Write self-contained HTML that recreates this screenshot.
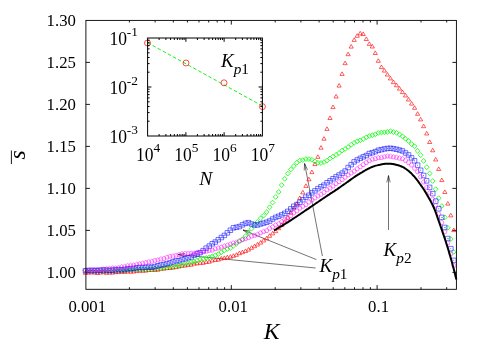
<!DOCTYPE html>
<html><head><meta charset="utf-8"><title>plot</title>
<style>html,body{margin:0;padding:0;background:#fff;overflow:hidden}svg{display:block;will-change:transform}text{font-family:"Liberation Serif",serif;fill:#000}.i{font-style:italic}</style></head><body>
<svg width="485" height="340" viewBox="0 0 485 340">
<rect width="485" height="340" fill="#fff"/>
<path d="M85.9 272.4h4M456.4 272.4h-4M85.9 230.4h4M456.4 230.4h-4M85.9 188.4h4M456.4 188.4h-4M85.9 146.4h4M456.4 146.4h-4M85.9 104.4h4M456.4 104.4h-4M85.9 62.4h4M456.4 62.4h-4M129.4 289.3v-2.1M129.4 20.4v2.1M155.1 289.3v-2.1M155.1 20.4v2.1M173.3 289.3v-2.1M173.3 20.4v2.1M187.4 289.3v-2.1M187.4 20.4v2.1M199 289.3v-2.1M199 20.4v2.1M208.7 289.3v-2.1M208.7 20.4v2.1M217.2 289.3v-2.1M217.2 20.4v2.1M224.6 289.3v-2.1M224.6 20.4v2.1M231.3 289.3v-4.2M231.3 20.4v4.2M275.2 289.3v-2.1M275.2 20.4v2.1M300.9 289.3v-2.1M300.9 20.4v2.1M319.1 289.3v-2.1M319.1 20.4v2.1M333.2 289.3v-2.1M333.2 20.4v2.1M344.8 289.3v-2.1M344.8 20.4v2.1M354.5 289.3v-2.1M354.5 20.4v2.1M363 289.3v-2.1M363 20.4v2.1M370.4 289.3v-2.1M370.4 20.4v2.1M377.1 289.3v-4.2M377.1 20.4v4.2M421 289.3v-2.1M421 20.4v2.1M446.7 289.3v-2.1M446.7 20.4v2.1" fill="none" stroke="#000" stroke-width="0.9"/>
<g fill="none" stroke="#000" stroke-width="0.55">
<path d="M316.4 259.6L243 230M243 230L249.9 231M243 230L248.7 234.1"/>
<path d="M315.6 268L178 254.5M178 254.5L184.9 253.5M178 254.5L184.6 256.8"/>
<path d="M322.4 256L304.6 163.5M304.6 163.5L307.5 169.8M304.6 163.5L304.2 170.5"/>
<path d="M388.5 230L388.5 175.6M388.5 175.6L390.2 182.4M388.5 175.6L386.8 182.4"/>
</g>
<g fill="none" class="m">
<path stroke="#ff0000" stroke-opacity="0.88" stroke-width="0.72" stroke-linejoin="round" d="M85.4 270.7L87.5 274.3L83.3 274.3ZM88.4 270.5L90.5 274.1L86.3 274.1ZM91.4 270.3L93.5 273.9L89.3 273.9ZM94.5 270.4L96.6 274L92.4 274ZM97.5 270.9L99.6 274.5L95.4 274.5ZM100.5 270.4L102.6 274L98.4 274ZM103.5 270.1L105.6 273.7L101.4 273.7ZM106.5 270.7L108.6 274.3L104.4 274.3ZM109.6 270.4L111.7 274L107.5 274ZM112.6 270.5L114.7 274.1L110.5 274.1ZM115.6 270L117.7 273.6L113.5 273.6ZM118.6 270L120.7 273.6L116.5 273.6ZM121.6 269.6L123.7 273.2L119.5 273.2ZM124.7 269.8L126.8 273.4L122.6 273.4ZM127.7 269.3L129.8 272.9L125.6 272.9ZM130.7 269.6L132.8 273.2L128.6 273.2ZM133.7 269.4L135.8 273L131.6 273ZM136.7 268.8L138.8 272.4L134.6 272.4ZM139.8 268.6L141.9 272.2L137.7 272.2ZM142.8 268.6L144.9 272.2L140.7 272.2ZM145.8 268.5L147.9 272.1L143.7 272.1ZM148.8 267.9L150.9 271.5L146.7 271.5ZM151.8 267.8L153.9 271.4L149.7 271.4ZM154.9 267.8L157 271.4L152.8 271.4ZM157.9 267.6L160 271.2L155.8 271.2ZM160.9 266.7L163 270.3L158.8 270.3ZM163.9 266.5L166 270.1L161.8 270.1ZM166.9 266L169 269.6L164.8 269.6ZM170 265.9L172.1 269.5L167.9 269.5ZM173 265.5L175.1 269.1L170.9 269.1ZM176 265L178.1 268.6L173.9 268.6ZM179 264.4L181.1 268L176.9 268ZM182 263.7L184.1 267.3L179.9 267.3ZM185.1 263.4L187.2 267L183 267ZM188.1 262.7L190.2 266.3L186 266.3ZM191.1 262.6L193.2 266.2L189 266.2ZM194.1 261.5L196.2 265.1L192 265.1ZM197.1 261.3L199.2 264.9L195 264.9ZM200.2 260.7L202.3 264.3L198.1 264.3ZM203.2 260.7L205.3 264.3L201.1 264.3ZM206.2 259.8L208.3 263.4L204.1 263.4ZM209.2 259.6L211.3 263.2L207.1 263.2ZM212.2 258.4L214.3 262L210.1 262ZM215.3 257.8L217.4 261.4L213.2 261.4ZM218.3 257.5L220.4 261.1L216.2 261.1ZM221.3 256.4L223.4 260L219.2 260ZM224.3 255.9L226.4 259.5L222.2 259.5ZM227.3 255.2L229.4 258.8L225.2 258.8ZM230.4 254.6L232.5 258.2L228.3 258.2ZM233.4 253.7L235.5 257.3L231.3 257.3ZM236.4 252.7L238.5 256.3L234.3 256.3ZM239.4 251.1L241.5 254.7L237.3 254.7ZM242.4 250.1L244.5 253.7L240.3 253.7ZM245.5 248.9L247.6 252.5L243.4 252.5ZM248.5 247.5L250.6 251.1L246.4 251.1ZM251.5 245.7L253.6 249.3L249.4 249.3ZM254.5 244.1L256.6 247.7L252.4 247.7ZM257.5 242.4L259.6 246L255.4 246ZM260.6 240.5L262.7 244.1L258.5 244.1ZM263.6 238.4L265.7 242L261.5 242ZM266.6 236.3L268.7 239.9L264.5 239.9ZM269.6 233.7L271.7 237.3L267.5 237.3ZM272.6 231.3L274.7 234.9L270.5 234.9ZM275.7 229.1L277.8 232.7L273.6 232.7ZM278.7 226.1L280.8 229.7L276.6 229.7ZM281.7 222.8L283.8 226.4L279.6 226.4ZM284.7 219.7L286.8 223.3L282.6 223.3ZM287.7 215.6L289.8 219.2L285.6 219.2ZM290.8 210.5L292.9 214.1L288.7 214.1ZM293.8 206.1L295.9 209.7L291.7 209.7ZM296.8 201.8L298.9 205.4L294.7 205.4ZM299.8 195.9L301.9 199.5L297.7 199.5ZM302.8 190.3L304.9 193.9L300.7 193.9ZM305.9 183.8L308 187.4L303.8 187.4ZM308.9 177.2L311 180.8L306.8 180.8ZM311.9 170L314 173.6L309.8 173.6ZM314.9 162L317 165.6L312.8 165.6ZM317.9 154.8L320 158.4L315.8 158.4ZM321 145.6L323.1 149.2L318.9 149.2ZM324 136.6L326.1 140.2L321.9 140.2ZM327 126.8L329.1 130.4L324.9 130.4ZM330 115.9L332.1 119.5L327.9 119.5ZM333 105L335.1 108.6L330.9 108.6ZM336.1 94.4L338.2 98L334 98ZM339.1 83.5L341.2 87.1L337 87.1ZM342.1 71.8L344.2 75.4L340 75.4ZM345.1 61.1L347.2 64.7L343 64.7ZM348.1 52.1L350.2 55.7L346 55.7ZM351.2 44.5L353.3 48.1L349.1 48.1ZM354.2 37.8L356.3 41.4L352.1 41.4ZM357.2 33.7L359.3 37.3L355.1 37.3ZM360.2 31.3L362.3 34.9L358.1 34.9ZM363.2 31.9L365.3 35.5L361.1 35.5ZM366.3 36.9L368.4 40.5L364.2 40.5ZM369.3 41.8L371.4 45.4L367.2 45.4ZM372.3 44.4L374.4 48L370.2 48ZM375.3 50.9L377.4 54.5L373.2 54.5ZM378.3 58.7L380.4 62.3L376.2 62.3ZM381.4 65L383.5 68.6L379.3 68.6ZM384.4 68.5L386.5 72.1L382.3 72.1ZM387.4 72.5L389.5 76.1L385.3 76.1ZM390.4 76.3L392.5 79.9L388.3 79.9ZM393.4 80L395.5 83.6L391.3 83.6ZM396.5 83.2L398.6 86.8L394.4 86.8ZM399.5 86.5L401.6 90.1L397.4 90.1ZM402.5 90L404.6 93.6L400.4 93.6ZM405.5 93.4L407.6 97L403.4 97ZM408.5 97.4L410.6 101L406.4 101ZM411.6 101.5L413.7 105.1L409.5 105.1ZM414.6 105.7L416.7 109.3L412.5 109.3ZM417.6 111.7L419.7 115.3L415.5 115.3ZM420.6 117.3L422.7 120.9L418.5 120.9ZM423.6 124.1L425.7 127.7L421.5 127.7ZM426.7 131.4L428.8 135L424.6 135ZM429.7 139.9L431.8 143.5L427.6 143.5ZM432.7 148.2L434.8 151.8L430.6 151.8ZM435.7 157.4L437.8 161L433.6 161ZM438.7 166.9L440.8 170.5L436.6 170.5ZM441.8 178L443.9 181.6L439.7 181.6ZM444.8 189.9L446.9 193.5L442.7 193.5ZM447.8 201.5L449.9 205.1L445.7 205.1ZM450.8 213.3L452.9 216.9L448.7 216.9ZM453.8 228L455.9 231.6L451.7 231.6Z"/>
<path stroke="#00ff00" stroke-width="0.78" d="M85.4 268.2L87.8 270.6L85.4 273L83 270.6ZM88.4 268.6L90.8 271L88.4 273.4L86 271ZM91.4 268.7L93.8 271.1L91.4 273.5L89 271.1ZM94.5 268.4L96.9 270.8L94.5 273.2L92.1 270.8ZM97.5 268.3L99.9 270.7L97.5 273.1L95.1 270.7ZM100.5 268L102.9 270.4L100.5 272.8L98.1 270.4ZM103.5 268.5L105.9 270.9L103.5 273.3L101.1 270.9ZM106.5 268.4L108.9 270.8L106.5 273.2L104.1 270.8ZM109.6 268.1L112 270.5L109.6 272.9L107.2 270.5ZM112.6 267.8L115 270.2L112.6 272.6L110.2 270.2ZM115.6 267.9L118 270.3L115.6 272.7L113.2 270.3ZM118.6 268.1L121 270.5L118.6 272.9L116.2 270.5ZM121.6 267.5L124 269.9L121.6 272.3L119.2 269.9ZM124.7 268L127.1 270.4L124.7 272.8L122.3 270.4ZM127.7 267.3L130.1 269.7L127.7 272.1L125.3 269.7ZM130.7 267.3L133.1 269.7L130.7 272.1L128.3 269.7ZM133.7 267L136.1 269.4L133.7 271.8L131.3 269.4ZM136.7 267L139.1 269.4L136.7 271.8L134.3 269.4ZM139.8 267.1L142.2 269.5L139.8 271.9L137.4 269.5ZM142.8 266.6L145.2 269L142.8 271.4L140.4 269ZM145.8 267.1L148.2 269.5L145.8 271.9L143.4 269.5ZM148.8 266.8L151.2 269.2L148.8 271.6L146.4 269.2ZM151.8 266.7L154.2 269.1L151.8 271.5L149.4 269.1ZM154.9 266.1L157.3 268.5L154.9 270.9L152.5 268.5ZM157.9 266.2L160.3 268.6L157.9 271L155.5 268.6ZM160.9 265.8L163.3 268.2L160.9 270.6L158.5 268.2ZM163.9 265.3L166.3 267.7L163.9 270.1L161.5 267.7ZM166.9 264.9L169.3 267.3L166.9 269.7L164.5 267.3ZM170 264.5L172.4 266.9L170 269.3L167.6 266.9ZM173 264.1L175.4 266.5L173 268.9L170.6 266.5ZM176 263.9L178.4 266.3L176 268.7L173.6 266.3ZM179 263L181.4 265.4L179 267.8L176.6 265.4ZM182 262.7L184.4 265.1L182 267.5L179.6 265.1ZM185.1 261.5L187.5 263.9L185.1 266.3L182.7 263.9ZM188.1 260.7L190.5 263.1L188.1 265.5L185.7 263.1ZM191.1 259.8L193.5 262.2L191.1 264.6L188.7 262.2ZM194.1 259.1L196.5 261.5L194.1 263.9L191.7 261.5ZM197.1 258.2L199.5 260.6L197.1 263L194.7 260.6ZM200.2 257L202.6 259.4L200.2 261.8L197.8 259.4ZM203.2 256.5L205.6 258.9L203.2 261.3L200.8 258.9ZM206.2 255.5L208.6 257.9L206.2 260.3L203.8 257.9ZM209.2 255L211.6 257.4L209.2 259.8L206.8 257.4ZM212.2 254L214.6 256.4L212.2 258.8L209.8 256.4ZM215.3 253L217.7 255.4L215.3 257.8L212.9 255.4ZM218.3 251.7L220.7 254.1L218.3 256.5L215.9 254.1ZM221.3 249.8L223.7 252.2L221.3 254.6L218.9 252.2ZM224.3 248.1L226.7 250.5L224.3 252.9L221.9 250.5ZM227.3 246.6L229.7 249L227.3 251.4L224.9 249ZM230.4 245.6L232.8 248L230.4 250.4L228 248ZM233.4 243.4L235.8 245.8L233.4 248.2L231 245.8ZM236.4 241.4L238.8 243.8L236.4 246.2L234 243.8ZM239.4 239.2L241.8 241.6L239.4 244L237 241.6ZM242.4 236.9L244.8 239.3L242.4 241.7L240 239.3ZM245.5 233.7L247.9 236.1L245.5 238.5L243.1 236.1ZM248.5 230.4L250.9 232.8L248.5 235.2L246.1 232.8ZM251.5 226.3L253.9 228.7L251.5 231.1L249.1 228.7ZM254.5 222.3L256.9 224.7L254.5 227.1L252.1 224.7ZM257.5 219.6L259.9 222L257.5 224.4L255.1 222ZM260.6 215.9L263 218.3L260.6 220.7L258.2 218.3ZM263.6 213.2L266 215.6L263.6 218L261.2 215.6ZM266.6 209.8L269 212.2L266.6 214.6L264.2 212.2ZM269.6 204.9L272 207.3L269.6 209.7L267.2 207.3ZM272.6 200.2L275 202.6L272.6 205L270.2 202.6ZM275.7 194.5L278.1 196.9L275.7 199.3L273.3 196.9ZM278.7 189.5L281.1 191.9L278.7 194.3L276.3 191.9ZM281.7 182.7L284.1 185.1L281.7 187.5L279.3 185.1ZM284.7 176.4L287.1 178.8L284.7 181.2L282.3 178.8ZM287.7 171.2L290.1 173.6L287.7 176L285.3 173.6ZM290.8 167.1L293.2 169.5L290.8 171.9L288.4 169.5ZM293.8 163.7L296.2 166.1L293.8 168.5L291.4 166.1ZM296.8 160.3L299.2 162.7L296.8 165.1L294.4 162.7ZM299.8 158.1L302.2 160.5L299.8 162.9L297.4 160.5ZM302.8 157.7L305.2 160.1L302.8 162.5L300.4 160.1ZM305.9 156.7L308.3 159.1L305.9 161.5L303.5 159.1ZM308.9 156.7L311.3 159.1L308.9 161.5L306.5 159.1ZM311.9 157.4L314.3 159.8L311.9 162.2L309.5 159.8ZM314.9 159L317.3 161.4L314.9 163.8L312.5 161.4ZM317.9 160.4L320.3 162.8L317.9 165.2L315.5 162.8ZM321 160.6L323.4 163L321 165.4L318.6 163ZM324 159.7L326.4 162.1L324 164.5L321.6 162.1ZM327 158.2L329.4 160.6L327 163L324.6 160.6ZM330 156L332.4 158.4L330 160.8L327.6 158.4ZM333 154.2L335.4 156.6L333 159L330.6 156.6ZM336.1 152.5L338.5 154.9L336.1 157.3L333.7 154.9ZM339.1 150.6L341.5 153L339.1 155.4L336.7 153ZM342.1 148.1L344.5 150.5L342.1 152.9L339.7 150.5ZM345.1 146.6L347.5 149L345.1 151.4L342.7 149ZM348.1 144.7L350.5 147.1L348.1 149.5L345.7 147.1ZM351.2 142.3L353.6 144.7L351.2 147.1L348.8 144.7ZM354.2 140.4L356.6 142.8L354.2 145.2L351.8 142.8ZM357.2 139L359.6 141.4L357.2 143.8L354.8 141.4ZM360.2 137.9L362.6 140.3L360.2 142.7L357.8 140.3ZM363.2 136.6L365.6 139L363.2 141.4L360.8 139ZM366.3 134.9L368.7 137.3L366.3 139.7L363.9 137.3ZM369.3 133.6L371.7 136L369.3 138.4L366.9 136ZM372.3 132.8L374.7 135.2L372.3 137.6L369.9 135.2ZM375.3 131.9L377.7 134.3L375.3 136.7L372.9 134.3ZM378.3 130.5L380.7 132.9L378.3 135.3L375.9 132.9ZM381.4 130.1L383.8 132.5L381.4 134.9L379 132.5ZM384.4 129.9L386.8 132.3L384.4 134.7L382 132.3ZM387.4 129.6L389.8 132L387.4 134.4L385 132ZM390.4 128.8L392.8 131.2L390.4 133.6L388 131.2ZM393.4 129.6L395.8 132L393.4 134.4L391 132ZM396.5 130.5L398.9 132.9L396.5 135.3L394.1 132.9ZM399.5 132L401.9 134.4L399.5 136.8L397.1 134.4ZM402.5 133.9L404.9 136.3L402.5 138.7L400.1 136.3ZM405.5 136.3L407.9 138.7L405.5 141.1L403.1 138.7ZM408.5 138.6L410.9 141L408.5 143.4L406.1 141ZM411.6 141.7L414 144.1L411.6 146.5L409.2 144.1ZM414.6 143.9L417 146.3L414.6 148.7L412.2 146.3ZM417.6 148.4L420 150.8L417.6 153.2L415.2 150.8ZM420.6 152.8L423 155.2L420.6 157.6L418.2 155.2ZM423.6 158.5L426 160.9L423.6 163.3L421.2 160.9ZM426.7 164.8L429.1 167.2L426.7 169.6L424.3 167.2ZM429.7 171.1L432.1 173.5L429.7 175.9L427.3 173.5ZM432.7 178.6L435.1 181L432.7 183.4L430.3 181ZM435.7 186.8L438.1 189.2L435.7 191.6L433.3 189.2ZM438.7 195.8L441.1 198.2L438.7 200.6L436.3 198.2ZM441.8 203.6L444.2 206L441.8 208.4L439.4 206ZM444.8 215L447.2 217.4L444.8 219.8L442.4 217.4ZM447.8 225.4L450.2 227.8L447.8 230.2L445.4 227.8ZM450.8 236.6L453.2 239L450.8 241.4L448.4 239ZM453.8 249.5L456.2 251.9L453.8 254.3L451.4 251.9Z"/>
<path stroke="#0000ff" stroke-width="0.55" d="M83.2 268.5h4.5v4.5h-4.5ZM86.2 268.2h4.5v4.5h-4.5ZM89.2 268.1h4.5v4.5h-4.5ZM92.2 268.2h4.5v4.5h-4.5ZM95.2 268.3h4.5v4.5h-4.5ZM98.2 268h4.5v4.5h-4.5ZM101.3 267.7h4.5v4.5h-4.5ZM104.3 267.9h4.5v4.5h-4.5ZM107.3 268h4.5v4.5h-4.5ZM110.3 268h4.5v4.5h-4.5ZM113.4 267.5h4.5v4.5h-4.5ZM116.4 267.4h4.5v4.5h-4.5ZM119.4 267.6h4.5v4.5h-4.5ZM122.4 267.2h4.5v4.5h-4.5ZM125.4 266.5h4.5v4.5h-4.5ZM128.4 266.4h4.5v4.5h-4.5ZM131.5 266.1h4.5v4.5h-4.5ZM134.5 265.5h4.5v4.5h-4.5ZM137.5 265.2h4.5v4.5h-4.5ZM140.5 265.3h4.5v4.5h-4.5ZM143.6 265.1h4.5v4.5h-4.5ZM146.6 264.8h4.5v4.5h-4.5ZM149.6 265h4.5v4.5h-4.5ZM152.6 264.3h4.5v4.5h-4.5ZM155.6 263.5h4.5v4.5h-4.5ZM158.7 262.7h4.5v4.5h-4.5ZM161.7 262.2h4.5v4.5h-4.5ZM164.7 261.4h4.5v4.5h-4.5ZM167.7 260.6h4.5v4.5h-4.5ZM170.7 259.6h4.5v4.5h-4.5ZM173.8 258.6h4.5v4.5h-4.5ZM176.8 258.4h4.5v4.5h-4.5ZM179.8 257.3h4.5v4.5h-4.5ZM182.8 256.5h4.5v4.5h-4.5ZM185.8 255.5h4.5v4.5h-4.5ZM188.9 254.7h4.5v4.5h-4.5ZM191.9 253.1h4.5v4.5h-4.5ZM194.9 251.5h4.5v4.5h-4.5ZM197.9 250.4h4.5v4.5h-4.5ZM200.9 248.4h4.5v4.5h-4.5ZM203.9 245.9h4.5v4.5h-4.5ZM207 243.8h4.5v4.5h-4.5ZM210 241.5h4.5v4.5h-4.5ZM213 239.8h4.5v4.5h-4.5ZM216 237.5h4.5v4.5h-4.5ZM219.1 235.3h4.5v4.5h-4.5ZM222.1 233.2h4.5v4.5h-4.5ZM225.1 230.6h4.5v4.5h-4.5ZM228.1 228h4.5v4.5h-4.5ZM231.1 225.6h4.5v4.5h-4.5ZM234.2 225h4.5v4.5h-4.5ZM237.2 224.3h4.5v4.5h-4.5ZM240.2 222.6h4.5v4.5h-4.5ZM243.2 221.1h4.5v4.5h-4.5ZM246.2 220.4h4.5v4.5h-4.5ZM249.2 221.7h4.5v4.5h-4.5ZM252.3 222.8h4.5v4.5h-4.5ZM255.3 222.7h4.5v4.5h-4.5ZM258.3 221.7h4.5v4.5h-4.5ZM261.3 220.9h4.5v4.5h-4.5ZM264.4 220h4.5v4.5h-4.5ZM267.4 218.8h4.5v4.5h-4.5ZM270.4 216.8h4.5v4.5h-4.5ZM273.4 215.1h4.5v4.5h-4.5ZM276.4 214h4.5v4.5h-4.5ZM279.5 212.6h4.5v4.5h-4.5ZM282.5 211.1h4.5v4.5h-4.5ZM285.5 209.1h4.5v4.5h-4.5ZM288.5 206.6h4.5v4.5h-4.5ZM291.5 204h4.5v4.5h-4.5ZM294.6 202.3h4.5v4.5h-4.5ZM297.6 200.1h4.5v4.5h-4.5ZM300.6 197.5h4.5v4.5h-4.5ZM303.6 194.9h4.5v4.5h-4.5ZM306.6 193h4.5v4.5h-4.5ZM309.6 190.6h4.5v4.5h-4.5ZM312.7 188.6h4.5v4.5h-4.5ZM315.7 186.4h4.5v4.5h-4.5ZM318.7 184.5h4.5v4.5h-4.5ZM321.7 182.9h4.5v4.5h-4.5ZM324.8 180.5h4.5v4.5h-4.5ZM327.8 178.6h4.5v4.5h-4.5ZM330.8 176.5h4.5v4.5h-4.5ZM333.8 174.6h4.5v4.5h-4.5ZM336.8 172.8h4.5v4.5h-4.5ZM339.9 170.9h4.5v4.5h-4.5ZM342.9 168.8h4.5v4.5h-4.5ZM345.9 165.3h4.5v4.5h-4.5ZM348.9 162.4h4.5v4.5h-4.5ZM351.9 159.6h4.5v4.5h-4.5ZM355 157.7h4.5v4.5h-4.5ZM358 156.1h4.5v4.5h-4.5ZM361 154.6h4.5v4.5h-4.5ZM364 153.3h4.5v4.5h-4.5ZM367 151.3h4.5v4.5h-4.5ZM370 150.5h4.5v4.5h-4.5ZM373.1 149.4h4.5v4.5h-4.5ZM376.1 148h4.5v4.5h-4.5ZM379.1 147.4h4.5v4.5h-4.5ZM382.1 146.7h4.5v4.5h-4.5ZM385.1 146.2h4.5v4.5h-4.5ZM388.2 146h4.5v4.5h-4.5ZM391.2 146.4h4.5v4.5h-4.5ZM394.2 147h4.5v4.5h-4.5ZM397.2 147.8h4.5v4.5h-4.5ZM400.2 148.7h4.5v4.5h-4.5ZM403.3 150.7h4.5v4.5h-4.5ZM406.3 152.7h4.5v4.5h-4.5ZM409.3 155.6h4.5v4.5h-4.5ZM412.3 158.5h4.5v4.5h-4.5ZM415.4 162.9h4.5v4.5h-4.5ZM418.4 168h4.5v4.5h-4.5ZM421.4 173.2h4.5v4.5h-4.5ZM424.4 178.6h4.5v4.5h-4.5ZM427.4 185.1h4.5v4.5h-4.5ZM430.5 191.4h4.5v4.5h-4.5ZM433.5 198.9h4.5v4.5h-4.5ZM436.5 206.5h4.5v4.5h-4.5ZM439.5 215.1h4.5v4.5h-4.5ZM442.5 225.2h4.5v4.5h-4.5ZM445.5 236.3h4.5v4.5h-4.5ZM448.6 246.4h4.5v4.5h-4.5ZM451.6 258.1h4.5v4.5h-4.5Z"/>
<path stroke="#0000ff" stroke-width="0.7" stroke-linecap="round" d="M85.4 270.7h0.01M88.4 270.5h0.01M91.4 270.3h0.01M94.5 270.4h0.01M97.5 270.5h0.01M100.5 270.3h0.01M103.5 270h0.01M106.5 270.2h0.01M109.6 270.3h0.01M112.6 270.3h0.01M115.6 269.7h0.01M118.6 269.6h0.01M121.6 269.9h0.01M124.7 269.5h0.01M127.7 268.7h0.01M130.7 268.7h0.01M133.7 268.4h0.01M136.7 267.8h0.01M139.8 267.5h0.01M142.8 267.5h0.01M145.8 267.4h0.01M148.8 267.1h0.01M151.8 267.3h0.01M154.9 266.6h0.01M157.9 265.7h0.01M160.9 264.9h0.01M163.9 264.5h0.01M166.9 263.7h0.01M170 262.9h0.01M173 261.9h0.01M176 260.9h0.01M179 260.6h0.01M182 259.6h0.01M185.1 258.7h0.01M188.1 257.8h0.01M191.1 256.9h0.01M194.1 255.3h0.01M197.1 253.8h0.01M200.2 252.6h0.01M203.2 250.6h0.01M206.2 248.1h0.01M209.2 246.1h0.01M212.2 243.8h0.01M215.3 242.1h0.01M218.3 239.8h0.01M221.3 237.5h0.01M224.3 235.5h0.01M227.3 232.9h0.01M230.4 230.3h0.01M233.4 227.9h0.01M236.4 227.3h0.01M239.4 226.6h0.01M242.4 224.9h0.01M245.5 223.3h0.01M248.5 222.7h0.01M251.5 224h0.01M254.5 225h0.01M257.5 224.9h0.01M260.6 224h0.01M263.6 223.2h0.01M266.6 222.3h0.01M269.6 221.1h0.01M272.6 219.1h0.01M275.7 217.3h0.01M278.7 216.3h0.01M281.7 214.8h0.01M284.7 213.4h0.01M287.7 211.4h0.01M290.8 208.9h0.01M293.8 206.3h0.01M296.8 204.5h0.01M299.8 202.3h0.01M302.8 199.7h0.01M305.9 197.2h0.01M308.9 195.2h0.01M311.9 192.8h0.01M314.9 190.9h0.01M317.9 188.6h0.01M321 186.8h0.01M324 185.1h0.01M327 182.7h0.01M330 180.8h0.01M333 178.7h0.01M336.1 176.8h0.01M339.1 175.1h0.01M342.1 173.2h0.01M345.1 171h0.01M348.1 167.5h0.01M351.2 164.7h0.01M354.2 161.9h0.01M357.2 159.9h0.01M360.2 158.3h0.01M363.2 156.9h0.01M366.3 155.6h0.01M369.3 153.6h0.01M372.3 152.7h0.01M375.3 151.6h0.01M378.3 150.3h0.01M381.4 149.6h0.01M384.4 149h0.01M387.4 148.4h0.01M390.4 148.3h0.01M393.4 148.6h0.01M396.5 149.3h0.01M399.5 150h0.01M402.5 151h0.01M405.5 152.9h0.01M408.5 155h0.01M411.6 157.9h0.01M414.6 160.8h0.01M417.6 165.2h0.01M420.6 170.2h0.01M423.6 175.5h0.01M426.7 180.9h0.01M429.7 187.3h0.01M432.7 193.7h0.01M435.7 201.1h0.01M438.7 208.7h0.01M441.8 217.4h0.01M444.8 227.5h0.01M447.8 238.6h0.01M450.8 248.6h0.01M453.8 260.3h0.01"/>
<path stroke="#ff00ff" stroke-width="0.65" stroke-opacity="0.75" d="M85.4 268.1L87.6 269.7L86.8 272.3L84 272.3L83.2 269.7ZM88.4 268.1L90.6 269.7L89.8 272.3L87.1 272.3L86.2 269.7ZM91.4 268L93.6 269.6L92.8 272.2L90.1 272.2L89.3 269.6ZM94.5 267.7L96.6 269.3L95.8 271.8L93.1 271.8L92.3 269.3ZM97.5 267.4L99.7 269L98.8 271.6L96.1 271.6L95.3 269ZM100.5 267.5L102.7 269.1L101.9 271.7L99.1 271.7L98.3 269.1ZM103.5 267L105.7 268.6L104.9 271.2L102.2 271.2L101.3 268.6ZM106.5 266.6L108.7 268.2L107.9 270.8L105.2 270.8L104.4 268.2ZM109.6 266.3L111.7 267.9L110.9 270.5L108.2 270.5L107.4 267.9ZM112.6 265.8L114.8 267.4L113.9 270L111.2 270L110.4 267.4ZM115.6 265.9L117.8 267.5L117 270.1L114.2 270.1L113.4 267.5ZM118.6 265.4L120.8 267L120 269.6L117.3 269.6L116.4 267ZM121.6 264.6L123.8 266.2L123 268.7L120.3 268.7L119.5 266.2ZM124.7 264.2L126.8 265.8L126 268.4L123.3 268.4L122.5 265.8ZM127.7 263.4L129.9 265L129 267.6L126.3 267.6L125.5 265ZM130.7 263.2L132.9 264.7L132.1 267.3L129.3 267.3L128.5 264.7ZM133.7 262.9L135.9 264.5L135.1 267L132.4 267L131.5 264.5ZM136.7 262.1L138.9 263.7L138.1 266.3L135.4 266.3L134.6 263.7ZM139.8 261.5L141.9 263.1L141.1 265.6L138.4 265.6L137.6 263.1ZM142.8 260.9L145 262.5L144.1 265.1L141.4 265.1L140.6 262.5ZM145.8 260.2L148 261.8L147.2 264.4L144.4 264.4L143.6 261.8ZM148.8 259.6L151 261.2L150.2 263.7L147.5 263.7L146.6 261.2ZM151.8 259.1L154 260.7L153.2 263.2L150.5 263.2L149.7 260.7ZM154.9 258.2L157 259.7L156.2 262.3L153.5 262.3L152.7 259.7ZM157.9 257.7L160.1 259.3L159.2 261.8L156.5 261.8L155.7 259.3ZM160.9 256.7L163.1 258.3L162.3 260.9L159.5 260.9L158.7 258.3ZM163.9 256.3L166.1 257.9L165.3 260.4L162.6 260.4L161.7 257.9ZM166.9 255L169.1 256.6L168.3 259.1L165.6 259.1L164.8 256.6ZM170 254.1L172.1 255.7L171.3 258.2L168.6 258.2L167.8 255.7ZM173 253.8L175.2 255.4L174.3 258L171.6 258L170.8 255.4ZM176 253L178.2 254.6L177.4 257.1L174.6 257.1L173.8 254.6ZM179 252.4L181.2 254L180.4 256.6L177.7 256.6L176.8 254ZM182 251.5L184.2 253.1L183.4 255.7L180.7 255.7L179.9 253.1ZM185.1 251.1L187.2 252.7L186.4 255.3L183.7 255.3L182.9 252.7ZM188.1 251.1L190.3 252.7L189.4 255.3L186.7 255.3L185.9 252.7ZM191.1 251L193.3 252.6L192.5 255.2L189.7 255.2L188.9 252.6ZM194.1 250.8L196.3 252.4L195.5 255L192.8 255L191.9 252.4ZM197.1 250.1L199.3 251.7L198.5 254.2L195.8 254.2L195 251.7ZM200.2 250.1L202.3 251.7L201.5 254.3L198.8 254.3L198 251.7ZM203.2 249.6L205.4 251.2L204.5 253.8L201.8 253.8L201 251.2ZM206.2 249.1L208.4 250.7L207.6 253.2L204.8 253.2L204 250.7ZM209.2 248.1L211.4 249.7L210.6 252.3L207.9 252.3L207 249.7ZM212.2 247.9L214.4 249.5L213.6 252.1L210.9 252.1L210.1 249.5ZM215.3 246.5L217.4 248.1L216.6 250.7L213.9 250.7L213.1 248.1ZM218.3 245.7L220.5 247.3L219.6 249.9L216.9 249.9L216.1 247.3ZM221.3 244.9L223.5 246.5L222.7 249L219.9 249L219.1 246.5ZM224.3 243.8L226.5 245.4L225.7 248L223 248L222.1 245.4ZM227.3 243L229.5 244.5L228.7 247.1L226 247.1L225.2 244.5ZM230.4 241.9L232.5 243.5L231.7 246.1L229 246.1L228.2 243.5ZM233.4 240.7L235.6 242.3L234.7 244.9L232 244.9L231.2 242.3ZM236.4 240.1L238.6 241.7L237.8 244.2L235 244.2L234.2 241.7ZM239.4 238.5L241.6 240L240.8 242.6L238.1 242.6L237.2 240ZM242.4 237.5L244.6 239.1L243.8 241.7L241.1 241.7L240.3 239.1ZM245.5 236.4L247.6 238L246.8 240.6L244.1 240.6L243.3 238ZM248.5 235.5L250.7 237L249.8 239.6L247.1 239.6L246.3 237ZM251.5 234L253.7 235.6L252.9 238.1L250.1 238.1L249.3 235.6ZM254.5 233.1L256.7 234.7L255.9 237.3L253.2 237.3L252.3 234.7ZM257.5 232.2L259.7 233.8L258.9 236.3L256.2 236.3L255.4 233.8ZM260.6 230.6L262.7 232.2L261.9 234.7L259.2 234.7L258.4 232.2ZM263.6 229.3L265.8 230.9L264.9 233.4L262.2 233.4L261.4 230.9ZM266.6 228.4L268.8 229.9L268 232.5L265.2 232.5L264.4 229.9ZM269.6 226.1L271.8 227.7L271 230.3L268.3 230.3L267.4 227.7ZM272.6 224.6L274.8 226.2L274 228.8L271.3 228.8L270.5 226.2ZM275.7 222.7L277.8 224.3L277 226.9L274.3 226.9L273.5 224.3ZM278.7 221.5L280.9 223.1L280 225.6L277.3 225.6L276.5 223.1ZM281.7 219.3L283.9 220.9L283.1 223.5L280.3 223.5L279.5 220.9ZM284.7 217.7L286.9 219.3L286.1 221.9L283.4 221.9L282.5 219.3ZM287.7 215.7L289.9 217.3L289.1 219.9L286.4 219.9L285.6 217.3ZM290.8 213.4L292.9 215L292.1 217.6L289.4 217.6L288.6 215ZM293.8 210.6L296 212.2L295.1 214.8L292.4 214.8L291.6 212.2ZM296.8 208.6L299 210.2L298.2 212.8L295.4 212.8L294.6 210.2ZM299.8 205.9L302 207.5L301.2 210.1L298.5 210.1L297.6 207.5ZM302.8 204L305 205.6L304.2 208.2L301.5 208.2L300.7 205.6ZM305.9 202.4L308 204L307.2 206.5L304.5 206.5L303.7 204ZM308.9 199.8L311.1 201.4L310.2 204L307.5 204L306.7 201.4ZM311.9 197.7L314.1 199.3L313.3 201.9L310.5 201.9L309.7 199.3ZM314.9 195.6L317.1 197.2L316.3 199.8L313.6 199.8L312.7 197.2ZM317.9 193.8L320.1 195.4L319.3 197.9L316.6 197.9L315.8 195.4ZM321 192L323.1 193.6L322.3 196.2L319.6 196.2L318.8 193.6ZM324 190.1L326.2 191.7L325.3 194.3L322.6 194.3L321.8 191.7ZM327 187.6L329.2 189.2L328.4 191.7L325.6 191.7L324.8 189.2ZM330 186L332.2 187.5L331.4 190.1L328.7 190.1L327.8 187.5ZM333 183.8L335.2 185.4L334.4 188L331.7 188L330.9 185.4ZM336.1 181.4L338.2 183L337.4 185.6L334.7 185.6L333.9 183ZM339.1 179.5L341.3 181.1L340.4 183.6L337.7 183.6L336.9 181.1ZM342.1 177.2L344.3 178.8L343.5 181.4L340.7 181.4L339.9 178.8ZM345.1 175L347.3 176.6L346.5 179.2L343.8 179.2L342.9 176.6ZM348.1 172.7L350.3 174.3L349.5 176.8L346.8 176.8L346 174.3ZM351.2 170.8L353.3 172.4L352.5 175L349.8 175L349 172.4ZM354.2 169L356.4 170.5L355.5 173.1L352.8 173.1L352 170.5ZM357.2 166.6L359.4 168.2L358.6 170.8L355.8 170.8L355 168.2ZM360.2 164.5L362.4 166.1L361.6 168.7L358.9 168.7L358 166.1ZM363.2 162.3L365.4 163.9L364.6 166.5L361.9 166.5L361.1 163.9ZM366.3 160.3L368.4 161.9L367.6 164.5L364.9 164.5L364.1 161.9ZM369.3 158.5L371.5 160.1L370.6 162.6L367.9 162.6L367.1 160.1ZM372.3 157L374.5 158.6L373.7 161.2L370.9 161.2L370.1 158.6ZM375.3 156.3L377.5 157.9L376.7 160.5L374 160.5L373.1 157.9ZM378.3 155.5L380.5 157.1L379.7 159.6L377 159.6L376.2 157.1ZM381.4 155.2L383.5 156.8L382.7 159.4L380 159.4L379.2 156.8ZM384.4 154.6L386.6 156.2L385.7 158.7L383 158.7L382.2 156.2ZM387.4 153.9L389.6 155.5L388.8 158L386 158L385.2 155.5ZM390.4 154L392.6 155.6L391.8 158.2L389.1 158.2L388.2 155.6ZM393.4 154.7L395.6 156.3L394.8 158.8L392.1 158.8L391.3 156.3ZM396.5 155.1L398.6 156.7L397.8 159.3L395.1 159.3L394.3 156.7ZM399.5 155.9L401.7 157.5L400.8 160.1L398.1 160.1L397.3 157.5ZM402.5 156.5L404.7 158L403.9 160.6L401.1 160.6L400.3 158ZM405.5 158.1L407.7 159.7L406.9 162.3L404.2 162.3L403.3 159.7ZM408.5 160.3L410.7 161.9L409.9 164.4L407.2 164.4L406.4 161.9ZM411.6 162.8L413.7 164.3L412.9 166.9L410.2 166.9L409.4 164.3ZM414.6 166L416.8 167.6L415.9 170.2L413.2 170.2L412.4 167.6ZM417.6 169.5L419.8 171.1L419 173.7L416.2 173.7L415.4 171.1ZM420.6 174.6L422.8 176.1L422 178.7L419.3 178.7L418.4 176.1ZM423.6 179.9L425.8 181.5L425 184L422.3 184L421.5 181.5ZM426.7 185.1L428.8 186.7L428 189.3L425.3 189.3L424.5 186.7ZM429.7 190.6L431.9 192.2L431 194.7L428.3 194.7L427.5 192.2ZM432.7 197L434.9 198.6L434.1 201.1L431.3 201.1L430.5 198.6ZM435.7 203.5L437.9 205.1L437.1 207.7L434.4 207.7L433.5 205.1ZM438.7 211.7L440.9 213.2L440.1 215.8L437.4 215.8L436.6 213.2ZM441.8 220.2L443.9 221.8L443.1 224.4L440.4 224.4L439.6 221.8ZM444.8 229.5L447 231.1L446.1 233.7L443.4 233.7L442.6 231.1ZM447.8 240.6L450 242.2L449.2 244.8L446.4 244.8L445.6 242.2ZM450.8 251.5L453 253.1L452.2 255.6L449.5 255.6L448.6 253.1ZM453.8 263.1L456 264.7L455.2 267.3L452.5 267.3L451.7 264.7Z"/>
</g>
<path fill="none" stroke="#000" stroke-width="2.0" d="M274 230.4L275 229.8L276 229.3L277 228.7L278 228.2L279 227.6L280 227L281 226.4L282 225.8L283 225.2L284 224.6L285 224L286 223.3L287 222.7L288 222.1L289 221.4L290 220.8L291 220.2L292 219.5L293 218.8L294 218.2L295 217.5L296 216.9L297 216.2L298 215.5L299 214.9L300 214.2L301 213.5L302 212.8L303 212.2L304 211.5L305 210.8L306 210.1L307 209.4L308 208.8L309 208.1L310 207.4L311 206.7L312 206L313 205.4L314 204.7L315 204L316 203.3L317 202.6L318 202L319 201.3L320 200.6L321 199.9L322 199.2L323 198.5L324 197.9L325 197.2L326 196.5L327 195.9L328 195.2L329 194.6L330 193.9L331 193.2L332 192.6L333 191.9L334 191.3L335 190.6L336 189.9L337 189.3L338 188.6L339 187.9L340 187.2L341 186.5L342 185.8L343 185.1L344 184.4L345 183.8L346 183L347 182.3L348 181.6L349 180.9L350 180.1L351 179.4L352 178.7L353 178L354 177.3L355 176.6L356 175.9L357 175.3L358 174.7L359 174.1L360 173.4L361 172.8L362 172.3L363 171.7L364 171.1L365 170.5L366 169.9L367 169.4L368 168.8L369 168.3L370 167.8L371 167.4L372 167L373 166.6L374 166.3L375 165.9L376 165.6L377 165.4L378 165.1L379 164.9L380 164.7L381 164.4L382 164.2L383 164.1L384 163.9L385 163.8L386 163.8L387 163.8L388 163.8L389 163.8L390 163.8L391 163.8L392 163.9L393 164.1L394 164.3L395 164.5L396 164.7L397 164.9L398 165.2L399 165.5L400 165.9L401 166.3L402 166.7L403 167.2L404 167.7L405 168.4L406 169L407 169.7L408 170.5L409 171.3L410 172.2L411 173.1L412 174.1L413 175.2L414 176.2L415 177.4L416 178.6L417 179.9L418 181.2L419 182.6L420 184L421 185.4L422 186.8L423 188.3L424 189.8L425 191.4L426 193L427 194.7L428 196.4L429 198.2L430 200L431 201.9L432 203.8L433 205.8L434 208L435 210.4L436 213.1L437 215.9L438 218.8L439 221.8L440 224.7L441 227.5L442 230.4L443 233.3L444 236.3L445 239.3L446 242.3L447 245.5L448 248.7L449 252L450 255.4L451 258.9L452 262.5L453 266.2L454 270L455 273.9L456 277.9L456.4 279.5"/>
<rect x="85.9" y="20.4" width="370.5" height="268.9" fill="none" stroke="#000" stroke-width="0.9"/>
<text x="46.6" y="278.3" font-size="17.7" text-anchor="start" textLength="29.3" lengthAdjust="spacingAndGlyphs">1.00</text>
<text x="46.6" y="236.3" font-size="17.7" text-anchor="start" textLength="29.3" lengthAdjust="spacingAndGlyphs">1.05</text>
<text x="46.6" y="194.3" font-size="17.7" text-anchor="start" textLength="29.3" lengthAdjust="spacingAndGlyphs">1.10</text>
<text x="46.6" y="152.3" font-size="17.7" text-anchor="start" textLength="29.3" lengthAdjust="spacingAndGlyphs">1.15</text>
<text x="46.6" y="110.3" font-size="17.7" text-anchor="start" textLength="29.3" lengthAdjust="spacingAndGlyphs">1.20</text>
<text x="46.6" y="68.3" font-size="17.7" text-anchor="start" textLength="29.3" lengthAdjust="spacingAndGlyphs">1.25</text>
<text x="46.6" y="26.3" font-size="17.7" text-anchor="start" textLength="29.3" lengthAdjust="spacingAndGlyphs">1.30</text>
<text x="68.4" y="312.2" font-size="17.7" text-anchor="start" textLength="37.7" lengthAdjust="spacingAndGlyphs">0.001</text>
<text x="218.6" y="312.2" font-size="17.7" text-anchor="start" textLength="29.3" lengthAdjust="spacingAndGlyphs">0.01</text>
<text x="368.1" y="312.2" font-size="17.7" text-anchor="start" textLength="20.9" lengthAdjust="spacingAndGlyphs">0.1</text>
<text x="271.6" y="339.4" font-size="23.7" text-anchor="middle" class="i">K</text>
<g transform="translate(25.4,154.8) rotate(-90)"><text x="0" y="0" font-size="23.7" class="i" text-anchor="middle">s</text><path d="M-9.3 -14h13.6" stroke="#000" stroke-width="0.9" fill="none"/></g>
<text x="319.5" y="272.4" font-size="19"><tspan class="i">K</tspan><tspan class="i" font-size="15.3" dy="7">p</tspan><tspan font-size="15.3">1</tspan></text>
<text x="383.6" y="255.6" font-size="19"><tspan class="i">K</tspan><tspan class="i" font-size="15.3" dy="7">p</tspan><tspan font-size="15.3">2</tspan></text>
<text x="221" y="67" font-size="19"><tspan class="i">K</tspan><tspan class="i" font-size="15.3" dy="7">p</tspan><tspan font-size="15.3">1</tspan></text>
<path d="M147.5 42.6L262.4 106" fill="none" stroke="#00ee00" stroke-width="0.9" stroke-dasharray="3.6 2.2"/>
<g fill="none" stroke="#ff0000" stroke-width="0.7">
<circle cx="147.5" cy="43" r="3"/>
<circle cx="186" cy="63" r="3"/>
<circle cx="224" cy="82.8" r="3"/>
<circle cx="262.4" cy="106.6" r="3"/>
</g>
<g fill="none" stroke="#000" stroke-width="1">
<rect x="147.6" y="38" width="114.8" height="98"/>
<path d="M159.1 136v-2M159.1 38v2M165.9 136v-2M165.9 38v2M170.6 136v-2M170.6 38v2M174.3 136v-2M174.3 38v2M177.4 136v-2M177.4 38v2M179.9 136v-2M179.9 38v2M182.2 136v-2M182.2 38v2M184.1 136v-2M184.1 38v2M185.9 136v-3.8M185.9 38v3.8M197.4 136v-2M197.4 38v2M204.1 136v-2M204.1 38v2M208.9 136v-2M208.9 38v2M212.6 136v-2M212.6 38v2M215.6 136v-2M215.6 38v2M218.2 136v-2M218.2 38v2M220.4 136v-2M220.4 38v2M222.4 136v-2M222.4 38v2M224.1 136v-3.8M224.1 38v3.8M235.7 136v-2M235.7 38v2M242.4 136v-2M242.4 38v2M247.2 136v-2M247.2 38v2M250.9 136v-2M250.9 38v2M253.9 136v-2M253.9 38v2M256.5 136v-2M256.5 38v2M258.7 136v-2M258.7 38v2M260.6 136v-2M260.6 38v2M147.6 87h3.8M262.4 87h-3.8M147.6 72.2h2M262.4 72.2h-2M147.6 63.6h2M262.4 63.6h-2M147.6 57.5h2M262.4 57.5h-2M147.6 52.8h2M262.4 52.8h-2M147.6 48.9h2M262.4 48.9h-2M147.6 45.6h2M262.4 45.6h-2M147.6 42.7h2M262.4 42.7h-2M147.6 40.2h2M262.4 40.2h-2M147.6 121.2h2M262.4 121.2h-2M147.6 112.6h2M262.4 112.6h-2M147.6 106.5h2M262.4 106.5h-2M147.6 101.8h2M262.4 101.8h-2M147.6 97.9h2M262.4 97.9h-2M147.6 94.6h2M262.4 94.6h-2M147.6 91.7h2M262.4 91.7h-2M147.6 89.2h2M262.4 89.2h-2"/>
</g>
<text x="109.4" y="45.1" font-size="18.8" textLength="17.5" lengthAdjust="spacingAndGlyphs">10</text>
<text x="126.8" y="36.3" font-size="13.4">-1</text>
<text x="109.4" y="94.1" font-size="18.8" textLength="17.5" lengthAdjust="spacingAndGlyphs">10</text>
<text x="126.8" y="85.3" font-size="13.4">-2</text>
<text x="109.4" y="143.1" font-size="18.8" textLength="17.5" lengthAdjust="spacingAndGlyphs">10</text>
<text x="126.8" y="134.3" font-size="13.4">-3</text>
<text x="136" y="160.7" font-size="18.8" textLength="17.5" lengthAdjust="spacingAndGlyphs">10</text>
<text x="153.4" y="151.9" font-size="13.4">4</text>
<text x="174.3" y="160.7" font-size="18.8" textLength="17.5" lengthAdjust="spacingAndGlyphs">10</text>
<text x="191.7" y="151.9" font-size="13.4">5</text>
<text x="212.5" y="160.7" font-size="18.8" textLength="17.5" lengthAdjust="spacingAndGlyphs">10</text>
<text x="229.9" y="151.9" font-size="13.4">6</text>
<text x="250.8" y="160.7" font-size="18.8" textLength="17.5" lengthAdjust="spacingAndGlyphs">10</text>
<text x="268.2" y="151.9" font-size="13.4">7</text>
<text x="205.7" y="185.2" font-size="19.6" text-anchor="middle" class="i">N</text>
</svg></body></html>
